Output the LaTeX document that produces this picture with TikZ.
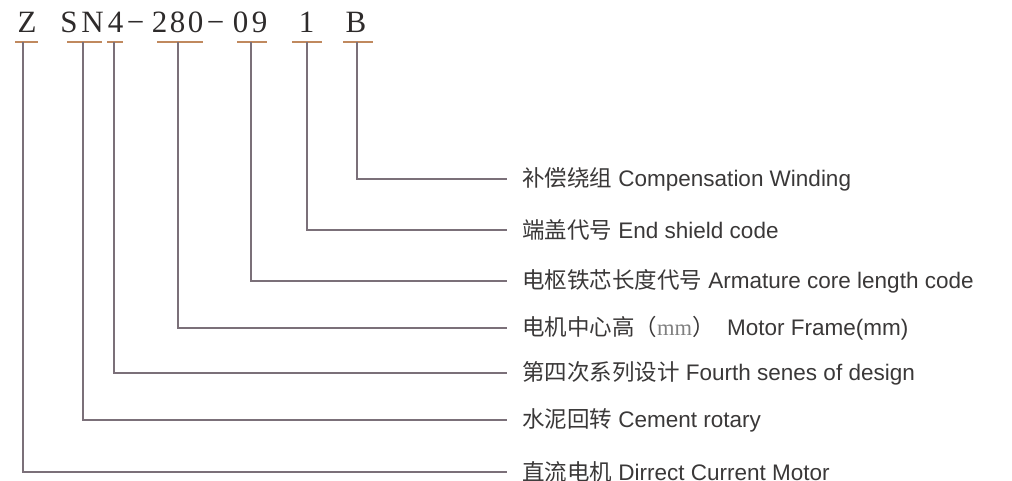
\documentclass[tikz,border=0pt]{standalone}
\usepackage{fontspec}
\setmainfont{Liberation Serif}
\setsansfont{Liberation Sans}
\newfontfamily\cjk{Noto Sans CJK SC}
\definecolor{codeink}{HTML}{2E2B2B}
\definecolor{labink}{HTML}{3A3838}
\definecolor{ulcol}{HTML}{C0895E}
\definecolor{leadcol}{HTML}{7B7079}
\tikzset{code/.style={anchor=base, inner sep=0pt, text=codeink, font=\fontsize{31}{33}\selectfont\rmfamily},
         uline/.style={ulcol, line width=1.3pt},
         leader/.style={leadcol, line width=1.3pt},
         lbl/.style={anchor=west, inner xsep=15pt, inner ysep=2pt, text=labink, font=\fontsize{22.5}{25}\selectfont\sffamily}}

\begin{document}
\begin{tikzpicture}[x=1pt,y=-1pt]
   \useasboundingbox (0,0) rectangle (1012,481);
   % the type code, one glyph at a time
   \foreach \nm/\x/\ch in {z/27/Z, s/69/S, n/92.5/N, f/115.5/4, da/135.5/−, b/159.5/2, c/177.5/8, d/195.5/0,
                           db/215.5/−, e/240.5/0, g/259.5/9, h/306.5/1, k/356/B} {
    \node[code] (c\nm) at (\x,33) {\ch};
   }
   % underlines and the top ends of the leaders
   \foreach \nm/\vx/\l/\r in {Z/23/15/38, SN/83/67/102, 4/114/107/123, 280/178/157/203, 09/251/237/267, 1/307/292/322, B/357/343/373} {
    \draw[uline] (\l,42) -- (\r,42);
    \coordinate (t\nm) at (\vx,42);
   }
   % meanings
   \node[lbl] (lB)   at (507,179) {{\cjk 补偿绕组} Compensation Winding};
   \node[lbl] (l1)   at (507,230) {{\cjk 端盖代号} End shield code};
   \node[lbl] (l09)  at (507,281) {{\cjk 电枢铁芯长度代号} Armature core length code};
   \node[lbl] (l280) at (507,328) {{\cjk 电机中心高（}{\rmfamily\color{gray}mm}{\cjk ）}\ \ Motor Frame(mm)};
   \node[lbl] (l4)   at (507,373) {{\cjk 第四次系列设计} Fourth senes of design};
   \node[lbl] (lSN)  at (507,420) {{\cjk 水泥回转} Cement rotary};
   \node[lbl] (lZ)   at (507,472) {{\cjk 直流电机} Dirrect Current Motor};
   % leaders
   \foreach \nm in {B,1,09,280,4,SN,Z} {
    \draw[leader] (t\nm) |- (l\nm);
   }
\end{tikzpicture}
\end{document}
